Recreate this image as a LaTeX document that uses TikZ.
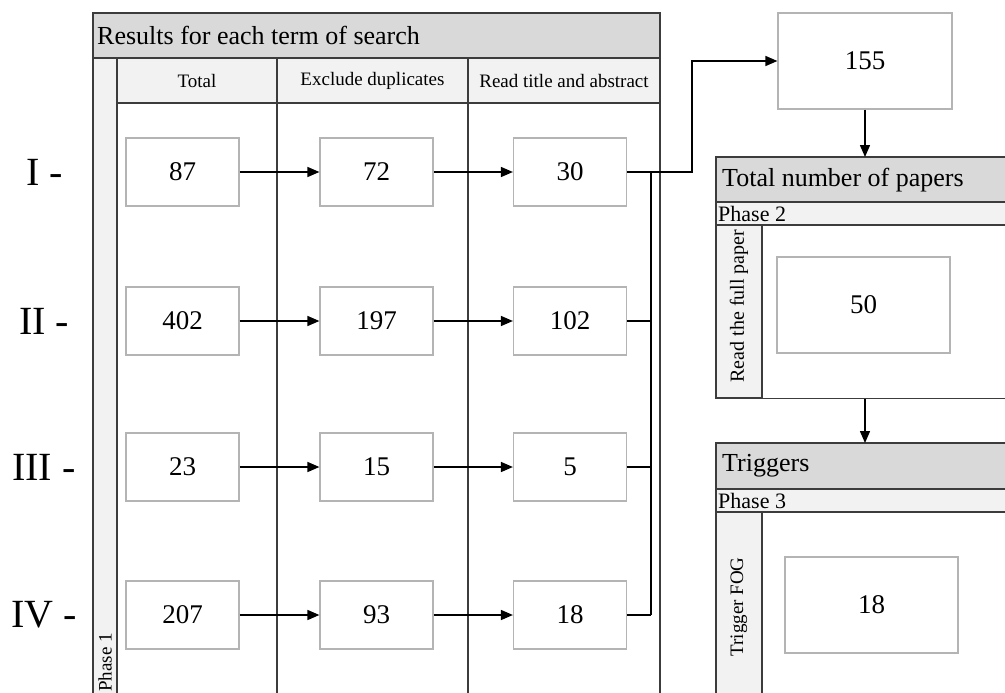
\documentclass[tikz,border=0pt]{standalone}
\usepackage{fontspec}
\setmainfont{Liberation Serif}
\usetikzlibrary{arrows.meta}
\definecolor{hdrfill}{HTML}{D9D9D9}
\definecolor{bandfill}{HTML}{F2F2F2}
\definecolor{gridcol}{HTML}{3C3C3C}
\definecolor{boxcol}{HTML}{B4B4B4}

\begin{document}
\begin{tikzpicture}[x=1pt,y=-1pt,
  gridline/.style={draw=gridcol, line width=1.4pt},
  numbox/.style={draw=boxcol, line width=1.2pt, fill=white, inner sep=0pt,
    minimum width=113pt, minimum height=68pt, font=\fontsize{27}{32}\selectfont},
  bigbox/.style={numbox, minimum width=174pt, minimum height=96pt},
  panel/.style={gridline, inner sep=0pt, minimum width=300pt, anchor=north west},
  rowlabel/.style={font=\fontsize{40}{44}\selectfont, inner sep=0pt},
  colhead/.style={font=\fontsize{19}{22}\selectfont, inner sep=0pt},
  title/.style={font=\fontsize{26}{30}\selectfont, inner sep=0pt, anchor=west},
  phase/.style={font=\fontsize{22}{24}\selectfont, inner sep=0pt, anchor=west},
  sidelabel/.style={font=\fontsize{19}{22}\selectfont, inner sep=0pt, rotate=90},
  flow/.style={line width=1.5pt, -{Triangle[length=12pt,width=10pt]}},
  link/.style={line width=1.5pt},
]
\useasboundingbox (0,0) rectangle (1005,693);
\clip (0,0) rectangle (1005,693);

% ---------- Phase 1 table ----------
\fill[bandfill] (93,58) rectangle (660,103);
\fill[bandfill] (93,58) rectangle (117,700);
\filldraw[fill=hdrfill, gridline] (93,13) rectangle (660,58);
\draw[gridline] (93,58) -- (93,700);
\draw[gridline] (117,58) -- (117,700);
\draw[gridline] (277,58) -- (277,700);
\draw[gridline] (468,58) -- (468,700);
\draw[gridline] (660,58) -- (660,700);
\draw[gridline] (117,103) -- (660,103);

\node[title] (t1) at (97,35) {Results for each term of search};
\node[colhead] (h1) at (197,81) {Total};
\node[colhead] (h2) at (372.5,81) {Exclude duplicates};
\node[colhead] (h3) at (564,81) {Read title and abstract};
\node[sidelabel, anchor=west] (ph1) at (105,692) {Phase 1};

% row labels
\node[rowlabel] (l1) at (45,172) {I -};
\node[rowlabel] (l2) at (44,321) {II -};
\node[rowlabel] (l3) at (44,467) {III -};
\node[rowlabel] (l4) at (44,615) {IV -};

% result boxes
\foreach \r/\y/\a/\b/\c in {1/172/87/72/30, 2/321/402/197/102, 3/467/23/15/5, 4/615/207/93/18}{
  \node[numbox] (r\r c1) at (182.5,\y) {\a};
  \node[numbox] (r\r c2) at (376.5,\y) {\b};
  \node[numbox] (r\r c3) at (570,\y) {\c};
  \draw[flow] (r\r c1.east) -- (r\r c2.west);
  \draw[flow] (r\r c2.east) -- (r\r c3.west);
}

% ---------- Phase 2 panel ----------
\node[panel, minimum height=241pt] (p2) at (716,157) {};
\filldraw[fill=hdrfill, gridline] (716,157) rectangle (1010,202);
\filldraw[fill=bandfill, gridline] (716,202) rectangle (1010,225);
\filldraw[fill=bandfill, gridline] (716,225) rectangle (762,398);
\node[title] (t2) at (722,180) {Total number of papers};
\node[phase] (ph2) at (718,213.5) {Phase 2};
\node[sidelabel, font=\fontsize{20}{22}\selectfont] (s2) at (739,306) {Read the full paper};
\node[bigbox, minimum width=173pt] (n50) at (863.5,305) {50};

% ---------- Phase 3 panel ----------
\node[panel, minimum height=260pt] (p3) at (716,443) {};
\filldraw[fill=hdrfill, gridline] (716,443) rectangle (1010,489);
\filldraw[fill=bandfill, gridline] (716,489) rectangle (1010,512);
\filldraw[fill=bandfill, gridline] (716,512) rectangle (762,710);
\node[title] (t3) at (722,466) {Triggers};
\node[phase] (ph3) at (718,500.5) {Phase 3};
\node[sidelabel] (s3) at (739,607) {Trigger FOG};
\node[bigbox, minimum width=173pt] (n18) at (871.5,605) {18};

% ---------- total box ----------
\node[bigbox] (n155) at (865,61) {155};

% ---------- connectors ----------
\coordinate (bus) at (651,0);
\coordinate (riser) at (692,0);
\draw[link] (r1c3.east -| bus) -- (r4c3.east -| bus);
\foreach \r in {2,3,4}{
  \draw[link] (r\r c3.east) -- (r\r c3.east -| bus);
}
\draw[flow] (r1c3.east) -- (r1c3.east -| riser) |- (n155.west);
\draw[flow] (n155.south) -- (n155.south |- p2.north);
\draw[flow] (n155.south |- p2.south) -- (n155.south |- p3.north);
\end{tikzpicture}
\end{document}
